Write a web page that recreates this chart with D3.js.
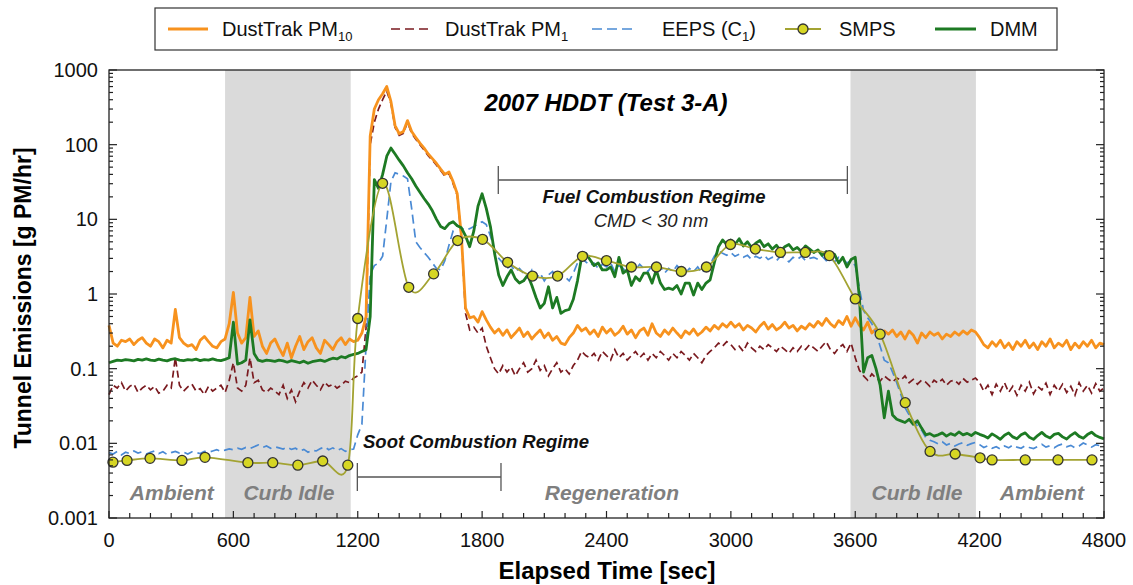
<!DOCTYPE html>
<html><head><meta charset="utf-8">
<script src="https://cdn.jsdelivr.net/npm/d3@7"></script>
<style>
body{margin:0;background:#fff;}
svg{display:block;font-family:"Liberation Sans",Arial,sans-serif;}
</style>
</head><body>
<svg id="chart" width="1133" height="585"></svg>
<script>
// ---------- data ----------
const xTickValues = [0, 600, 1200, 1800, 2400, 3000, 3600, 4200, 4800];
const yTickValues = [0.001, 0.01, 0.1, 1, 10, 100, 1000];
const yTickLabels = ["0.001", "0.01", "0.1", "1", "10", "100", "1000"];
const sampleStep = 20; // seconds between samples of the continuous series

const dustTrakPM10 = [
 0.38,0.22,0.20,0.24,0.23,0.25,0.21,0.24,0.26,0.22,
 0.20,0.25,0.23,0.19,0.24,0.22,0.62,0.26,0.22,0.20,
 0.21,0.18,0.24,0.27,0.23,0.20,0.19,0.23,0.25,0.40,
 1.05,0.30,0.22,0.26,0.90,0.27,0.32,0.20,0.16,0.22,
 0.25,0.19,0.15,0.22,0.14,0.20,0.27,0.18,0.23,0.26,
 0.19,0.16,0.24,0.21,0.18,0.23,0.26,0.21,0.25,0.23,
 0.24,0.30,0.50,130,300,400,480,600,380,180,
 140,150,210,150,125,105,90,75,65,56,
 47,40,43,32,22,6,0.65,0.48,0.50,0.42,
 0.58,0.45,0.36,0.30,0.34,0.28,0.33,0.26,0.30,0.35,
 0.27,0.31,0.25,0.29,0.33,0.26,0.30,0.24,0.27,0.22,
 0.21,0.26,0.30,0.38,0.32,0.35,0.29,0.33,0.27,0.36,
 0.30,0.34,0.28,0.31,0.37,0.29,0.33,0.26,0.32,0.35,
 0.28,0.40,0.30,0.27,0.33,0.29,0.35,0.30,0.26,0.32,
 0.29,0.34,0.28,0.31,0.36,0.32,0.38,0.34,0.40,0.36,
 0.42,0.36,0.40,0.33,0.38,0.35,0.31,0.37,0.42,0.34,
 0.39,0.33,0.36,0.42,0.35,0.38,0.32,0.37,0.34,0.40,
 0.36,0.43,0.38,0.47,0.40,0.36,0.44,0.39,0.50,0.37,
 0.48,0.38,0.33,0.42,0.30,0.34,0.28,0.32,0.29,0.33,
 0.27,0.31,0.25,0.32,0.28,0.22,0.30,0.26,0.31,0.28,
 0.30,0.25,0.29,0.27,0.31,0.28,0.32,0.29,0.33,0.31,
 0.26,0.21,0.19,0.23,0.20,0.24,0.19,0.22,0.18,0.23,
 0.20,0.24,0.19,0.22,0.18,0.23,0.20,0.25,0.19,0.22,
 0.20,0.24,0.18,0.22,0.19,0.23,0.20,0.24,0.19,0.22,
 0.21];

const dustTrakPM1 = [
 0.045,0.060,0.055,0.065,0.050,0.058,0.062,0.048,0.055,0.060,
 0.052,0.058,0.047,0.050,0.060,0.055,0.140,0.060,0.050,0.057,
 0.062,0.050,0.054,0.045,0.058,0.050,0.055,0.060,0.048,0.070,
 0.120,0.055,0.050,0.060,0.140,0.065,0.070,0.052,0.048,0.055,
 0.050,0.045,0.060,0.040,0.052,0.036,0.050,0.065,0.055,0.070,
 0.060,0.052,0.066,0.058,0.062,0.055,0.060,0.068,0.065,0.075,
 0.080,0.090,0.350,100,200,300,400,520,360,170,
 133,142,200,142,118,100,85,71,62,53,
 45,38,41,30,21,5.7,0.55,0.33,0.36,0.30,
 0.35,0.20,0.14,0.10,0.085,0.11,0.09,0.105,0.08,0.10,
 0.12,0.09,0.10,0.13,0.095,0.11,0.08,0.10,0.12,0.09,
 0.10,0.085,0.11,0.13,0.17,0.15,0.14,0.16,0.13,0.17,
 0.15,0.13,0.18,0.14,0.16,0.13,0.15,0.17,0.14,0.16,
 0.13,0.16,0.14,0.17,0.15,0.13,0.16,0.14,0.17,0.15,
 0.13,0.16,0.14,0.12,0.15,0.17,0.19,0.22,0.20,0.23,
 0.21,0.18,0.20,0.17,0.22,0.19,0.17,0.20,0.18,0.21,
 0.19,0.17,0.20,0.18,0.16,0.19,0.17,0.20,0.18,0.21,
 0.19,0.17,0.20,0.23,0.18,0.16,0.19,0.21,0.17,0.22,
 0.14,0.095,0.08,0.07,0.085,0.075,0.068,0.08,0.072,0.066,
 0.075,0.07,0.08,0.065,0.072,0.062,0.07,0.066,0.058,0.07,
 0.064,0.072,0.06,0.068,0.07,0.062,0.074,0.066,0.07,0.075,
 0.065,0.05,0.06,0.045,0.062,0.05,0.065,0.048,0.058,0.044,
 0.06,0.05,0.066,0.046,0.058,0.052,0.064,0.045,0.06,0.05,
 0.062,0.048,0.058,0.044,0.065,0.05,0.06,0.047,0.063,0.05,
 0.055];

const eepsC1 = [
 0.0075,0.0072,0.0078,0.0070,0.0076,0.0073,0.0079,0.0074,0.0077,0.0072,
 0.0076,0.0079,0.0073,0.0077,0.0071,0.0075,0.0078,0.0074,0.0076,0.0072,
 0.0077,0.0075,0.0073,0.0078,0.0076,0.0079,0.0082,0.0078,0.0081,0.0084,
 0.0082,0.0086,0.0083,0.0088,0.0085,0.0090,0.0095,0.0088,0.0092,0.0086,
 0.0090,0.0087,0.0084,0.0089,0.0083,0.0086,0.0079,0.0083,0.0076,0.0081,
 0.0079,0.0085,0.0090,0.0082,0.0087,0.0080,0.0085,0.0078,0.0082,0.0084,
 0.013,0.018,0.20,1.8,2.4,2.6,3.2,10,32,42,
 40,38,35,14,5.0,4.2,3.6,3.1,2.6,2.2,
 2.1,2.8,4.5,7.0,8.3,7.6,7.2,7.5,8.0,8.6,
 9.3,8.5,6.0,4.0,3.0,2.6,2.2,2.4,2.0,2.2,
 1.9,1.7,2.1,1.6,1.9,1.5,1.8,2.0,1.6,1.9,
 1.7,1.5,1.9,2.6,3.0,2.7,2.4,2.6,2.2,2.5,
 2.3,2.6,2.0,2.4,2.2,1.9,2.3,2.1,2.5,2.2,
 2.0,2.4,2.1,2.3,1.9,2.2,2.0,2.4,2.1,1.9,
 2.2,2.0,2.3,1.9,2.2,2.5,3.2,3.8,3.5,3.3,
 3.6,3.2,3.4,3.1,3.3,2.9,3.2,3.0,3.3,2.9,
 3.1,2.8,3.2,3.0,2.7,3.1,2.9,3.2,2.8,3.0,
 3.1,2.9,3.2,2.8,3.0,2.7,3.1,2.9,2.6,2.8,
 2.4,1.2,0.6,0.48,0.40,0.30,0.20,0.13,0.12,0.09,
 0.065,0.045,0.030,0.024,0.020,0.017,0.015,0.012,0.011,0.0105,
 0.0098,0.0105,0.0095,0.0100,0.0092,0.0098,0.0102,0.0094,0.0099,0.0103,
 0.0096,0.0088,0.0093,0.0086,0.0090,0.0084,0.0092,0.0087,0.0095,0.0089,
 0.0086,0.0093,0.0088,0.0085,0.0091,0.0097,0.0089,0.0093,0.0087,0.0094,
 0.0098,0.0090,0.0094,0.0087,0.0092,0.0101,0.0095,0.0089,0.0096,0.0093,
 0.0098];

const dmm = [
 0.120,0.125,0.130,0.128,0.132,0.130,0.127,0.133,0.130,0.135,
 0.130,0.128,0.134,0.130,0.127,0.133,0.136,0.130,0.128,0.132,
 0.130,0.134,0.128,0.132,0.130,0.135,0.130,0.128,0.133,0.140,
 0.420,0.115,0.120,0.130,0.450,0.160,0.130,0.125,0.130,0.128,
 0.125,0.130,0.127,0.122,0.128,0.124,0.120,0.126,0.118,0.124,
 0.127,0.130,0.125,0.132,0.138,0.135,0.145,0.140,0.150,0.155,
 0.160,0.170,0.180,0.500,34,26,40,70,90,75,
 62,52,42,35,28,23,19,16,13,10,
 8.0,7.5,8.7,9.3,8.2,7.7,6.0,4.3,7.0,15,
 22,14,8.0,3.5,1.8,1.3,1.7,2.1,1.6,1.4,
 1.5,1.8,1.3,0.9,0.65,0.75,1.25,0.65,0.9,0.55,
 0.6,0.62,0.85,1.5,3.1,3.5,2.9,2.4,2.6,2.1,
 2.1,2.3,1.7,3.1,1.9,2.1,1.3,1.7,1.5,1.9,
 1.9,1.4,2.1,1.4,1.15,1.2,1.15,1.3,1.0,1.4,
 1.4,0.97,1.4,1.15,1.4,1.55,2.6,4.3,5.3,4.6,
 5.3,4.6,5.5,4.4,5.0,4.2,4.8,5.2,4.3,4.7,
 4.0,4.5,3.8,4.3,4.6,3.9,4.2,3.7,4.4,4.0,
 3.6,3.9,3.3,3.7,2.9,3.4,2.6,3.1,2.3,2.9,
 3.1,0.9,0.09,0.14,0.15,0.10,0.06,0.022,0.05,0.024,
 0.021,0.020,0.019,0.021,0.018,0.020,0.016,0.013,0.0135,0.0125,
 0.0130,0.0138,0.0125,0.0135,0.0128,0.0142,0.0130,0.0136,0.0127,0.0140,
 0.0132,0.0126,0.0118,0.0134,0.0124,0.0113,0.0128,0.0138,0.0122,0.0115,
 0.0130,0.0138,0.0121,0.0113,0.0127,0.0140,0.0125,0.0118,0.0132,0.0136,
 0.0122,0.0114,0.0128,0.0139,0.0124,0.0117,0.0131,0.0141,0.0127,0.0120,
 0.0115];

const smpsTime = [19,87,198,352,463,670,790,911,1031,1152,1200,1320,1446,1566,1682,1802,1923,2043,2164,2284,
                  2400,2520,2641,2761,2882,2998,3118,3239,3359,3475,3600,3720,3841,3961,4082,4202,4260,4420,4578,4742];
const smpsValue = [0.0056,0.0059,0.0063,0.0059,0.0065,0.0055,0.0055,0.0051,0.0058,0.0051,0.47,30.4,1.23,1.86,5.2,5.4,2.66,1.74,1.74,3.2,
                   2.8,2.3,2.3,2.0,2.3,4.6,4.0,3.6,3.6,3.27,0.86,0.29,0.035,0.0078,0.0072,0.0064,0.0060,0.0060,0.0060,0.0060];

const shadedPeriods = [[560, 1166], [3577, 4182]];
const periodLabels = [
  {t: 303, text: "Ambient"}, {t: 868, text: "Curb Idle"}, {t: 2426, text: "Regeneration"},
  {t: 3898, text: "Curb Idle"}, {t: 4501, text: "Ambient"}];
const sootBracket = [1198, 1891];
const fuelBracket = [1878, 3562];

// ---------- layout ----------
const svg = d3.select("#chart");
const L = 109, R = 1104, T = 70, B = 518;
const x = d3.scaleLinear().domain([0, 4800]).range([L, R]);
const y = d3.scaleLog().domain([0.001, 1000]).range([B, T]);

const series = arr => arr.map((v, i) => ({t: i * sampleStep, v}));

// shaded periods
svg.append("g").selectAll("rect").data(shadedPeriods).join("rect")
  .attr("x", d => x(d[0])).attr("width", d => x(d[1]) - x(d[0]))
  .attr("y", T).attr("height", B - T).attr("fill", "#dadada");

// period labels
svg.append("g").selectAll("text").data(periodLabels).join("text")
  .attr("x", d => x(d.t)).attr("y", 500).attr("text-anchor", "middle")
  .attr("font-size", 21).attr("font-weight", "bold").attr("font-style", "italic")
  .attr("fill", "#7f7f7f").text(d => d.text);

const line = d3.line().x(d => x(d.t)).y(d => y(d.v));

svg.append("path").datum(series(dustTrakPM1)).attr("d", line)
  .attr("fill", "none").attr("stroke", "#7a1a1f").attr("stroke-width", 1.7)
  .attr("stroke-dasharray", "7,4");
svg.append("path").datum(series(dustTrakPM10)).attr("d", line)
  .attr("fill", "none").attr("stroke", "#f7921e").attr("stroke-width", 2.8).attr("stroke-linejoin", "round");
svg.append("path").datum(series(eepsC1)).attr("d", line)
  .attr("fill", "none").attr("stroke", "#4a8ad4").attr("stroke-width", 1.7)
  .attr("stroke-dasharray", "9,5");
svg.append("path").datum(series(dmm)).attr("d", line)
  .attr("fill", "none").attr("stroke", "#1d7a23").attr("stroke-width", 2.8).attr("stroke-linejoin", "round");

const smps = smpsTime.map((t, i) => ({t, v: smpsValue[i]}));
svg.append("path").datum(smps)
  .attr("d", d3.line().x(d => x(d.t)).y(d => y(d.v)).curve(d3.curveCatmullRom.alpha(0)))
  .attr("fill", "none").attr("stroke", "#a3a332").attr("stroke-width", 1.8);
svg.append("g").selectAll("circle").data(smps).join("circle")
  .attr("cx", d => x(d.t)).attr("cy", d => y(d.v)).attr("r", 5)
  .attr("fill", "#d6d624").attr("stroke", "#333").attr("stroke-width", 1.3);

// brackets
function bracket(range, yy, h) {
  const g = svg.append("g").attr("stroke", "#555").attr("stroke-width", 1.3);
  g.append("line").attr("x1", x(range[0])).attr("x2", x(range[1])).attr("y1", yy).attr("y2", yy);
  range.forEach(t => g.append("line").attr("x1", x(t)).attr("x2", x(t)).attr("y1", yy - h).attr("y2", yy + h));
}
bracket(sootBracket, 477, 14);
bracket(fuelBracket, 180, 14);

svg.append("text").attr("x", 363).attr("y", 448).attr("font-size", 18.5)
  .attr("font-weight", "bold").attr("font-style", "italic").attr("fill", "#111").text("Soot Combustion Regime");
svg.append("text").attr("x", 654).attr("y", 203).attr("font-size", 18.5).attr("text-anchor", "middle")
  .attr("font-weight", "bold").attr("font-style", "italic").attr("fill", "#111").text("Fuel Combustion Regime");
svg.append("text").attr("x", 651).attr("y", 227).attr("font-size", 18.5).attr("text-anchor", "middle")
  .attr("font-style", "italic").attr("fill", "#222").text("CMD < 30 nm");
svg.append("text").attr("x", 606).attr("y", 111).attr("font-size", 24).attr("text-anchor", "middle")
  .attr("font-weight", "bold").attr("font-style", "italic").attr("fill", "#000").text("2007 HDDT (Test 3-A)");

// frame
svg.append("rect").attr("x", L).attr("y", T).attr("width", R - L).attr("height", B - T)
  .attr("fill", "none").attr("stroke", "#222").attr("stroke-width", 1.3);

// y ticks (left & right, inward)
const minorY = [];
for (let e = -3; e < 3; e++) for (let m = 2; m <= 9; m++) minorY.push(m * Math.pow(10, e));
const tg = svg.append("g").attr("stroke", "#222").attr("stroke-width", 1.2);
yTickValues.forEach(v => {
  tg.append("line").attr("x1", L).attr("x2", L + 8).attr("y1", y(v)).attr("y2", y(v));
  tg.append("line").attr("x1", R).attr("x2", R - 8).attr("y1", y(v)).attr("y2", y(v));
});
minorY.forEach(v => {
  tg.append("line").attr("x1", L).attr("x2", L + 4).attr("y1", y(v)).attr("y2", y(v));
  tg.append("line").attr("x1", R).attr("x2", R - 4).attr("y1", y(v)).attr("y2", y(v));
});
// x ticks (bottom, inward)
d3.range(0, 4801, 100).forEach(t => {
  const major = t % 600 === 0;
  tg.append("line").attr("x1", x(t)).attr("x2", x(t)).attr("y1", B).attr("y2", B - (major ? 7 : 5));
});

svg.append("g").selectAll("text").data(yTickValues).join("text")
  .attr("x", 98).attr("y", d => y(d)).attr("dy", "0.35em").attr("text-anchor", "end")
  .attr("font-size", 20).attr("fill", "#111").text((d, i) => yTickLabels[i]);
svg.append("g").selectAll("text").data(xTickValues).join("text")
  .attr("x", d => x(d)).attr("y", 547).attr("text-anchor", "middle")
  .attr("font-size", 20).attr("fill", "#111").text(d => d);

// axis titles
svg.append("text").attr("x", 607).attr("y", 579).attr("text-anchor", "middle")
  .attr("font-size", 24).attr("font-weight", "bold").attr("fill", "#000").text("Elapsed Time [sec]");
svg.append("text").attr("transform", "translate(31,298) rotate(-90)").attr("text-anchor", "middle")
  .attr("font-size", 23).attr("font-weight", "bold").attr("fill", "#000").text("Tunnel Emissions [g PM/hr]");

// legend
const lg = svg.append("g");
lg.append("rect").attr("x", 155).attr("y", 8).attr("width", 902).attr("height", 42)
  .attr("fill", "#fff").attr("stroke", "#333").attr("stroke-width", 1.2);
const ly = 29;
lg.append("line").attr("x1", 168).attr("x2", 208).attr("y1", ly).attr("y2", ly).attr("stroke", "#f7921e").attr("stroke-width", 2.8);
lg.append("line").attr("x1", 391).attr("x2", 431).attr("y1", ly).attr("y2", ly).attr("stroke", "#7a1a1f").attr("stroke-width", 1.7).attr("stroke-dasharray", "9,5");
lg.append("line").attr("x1", 592).attr("x2", 636).attr("y1", ly).attr("y2", ly).attr("stroke", "#4a8ad4").attr("stroke-width", 1.7).attr("stroke-dasharray", "10,5");
lg.append("line").attr("x1", 785).attr("x2", 821).attr("y1", ly).attr("y2", ly).attr("stroke", "#a3a332").attr("stroke-width", 1.8);
lg.append("circle").attr("cx", 803).attr("cy", ly).attr("r", 5).attr("fill", "#d6d624").attr("stroke", "#333").attr("stroke-width", 1.3);
lg.append("line").attr("x1", 935).attr("x2", 976).attr("y1", ly).attr("y2", ly).attr("stroke", "#1d7a23").attr("stroke-width", 2.8);

function legendText(xx, main, sub, tail) {
  const t = lg.append("text").attr("x", xx).attr("y", ly + 7).attr("font-size", 20).attr("fill", "#111");
  t.append("tspan").text(main);
  if (sub) t.append("tspan").attr("font-size", 13).attr("dy", 5).text(sub);
  if (tail) t.append("tspan").attr("dy", -5).text(tail);
}
legendText(222, "DustTrak PM", "10");
legendText(445, "DustTrak PM", "1");
legendText(662, "EEPS (C", "1", ")");
legendText(839, "SMPS");
legendText(990, "DMM");
</script>
</body></html>
